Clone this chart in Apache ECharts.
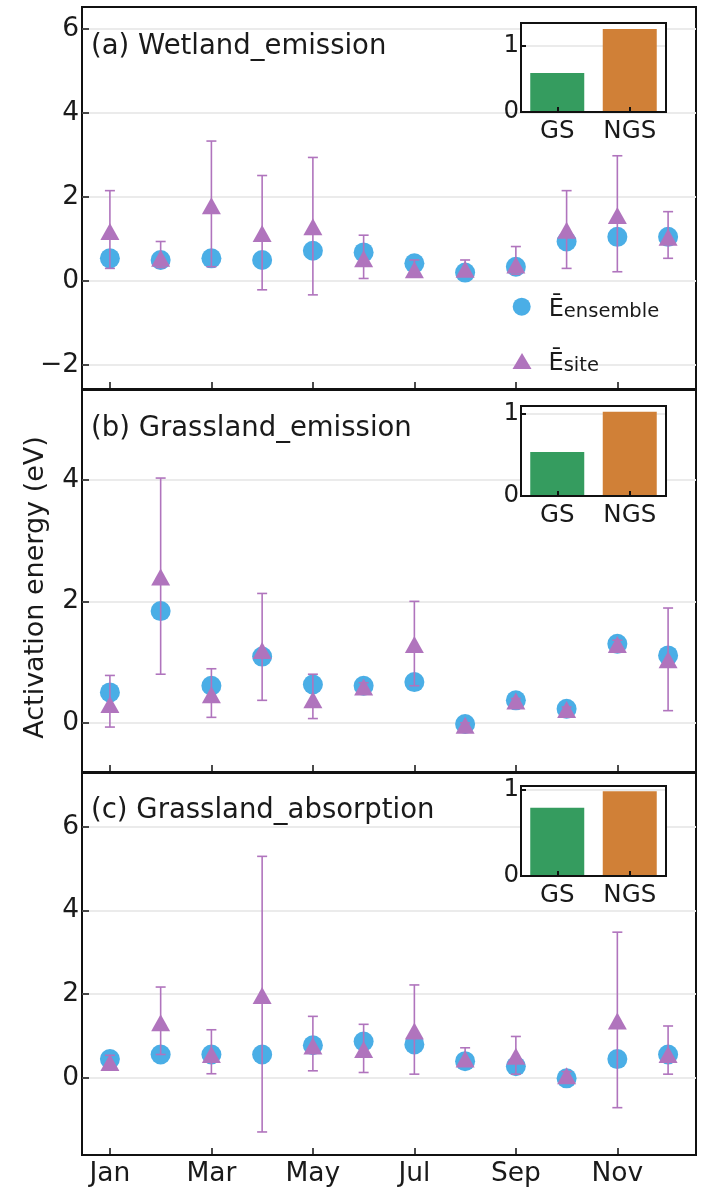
<!DOCTYPE html>
<html>
<head>
<meta charset="utf-8">
<script src="https://cdn.jsdelivr.net/npm/echarts@6/dist/echarts.min.js"></script>
<style>
html,body{margin:0;padding:0;background:#fff;}
#chart{width:704px;height:1190px;}
</style>
</head>
<body>
<div id="chart"></div>
<script>
// ---------- data ----------
const months = ['Jan','Feb','Mar','Apr','May','Jun','Jul','Aug','Sep','Oct','Nov','Dec'];
const monthTicks = [1,3,5,7,9,11];
const panelTitles = ['(a) Wetland_emission','(b) Grassland_emission','(c) Grassland_absorption'];
const insetCats = ['GS','NGS'];

const wetEns   = [0.54,0.50,0.54,0.50,0.72,0.68,0.42,0.20,0.34,0.94,1.05,1.05];
const wetSite  = [1.18,0.54,1.79,1.13,1.29,0.53,0.27,0.28,0.38,1.21,1.56,1.04];
const wetLow   = [0.30,0.32,0.34,-0.21,-0.33,0.06,0.12,0.12,0.16,0.30,0.22,0.54];
const wetHigh  = [2.15,0.94,3.33,2.51,2.94,1.09,0.50,0.50,0.82,2.15,2.98,1.65];

const gemEns   = [0.50,1.84,0.61,1.09,0.63,0.61,0.67,-0.02,0.37,0.23,1.30,1.11];
const gemSite  = [0.30,2.40,0.46,1.19,0.38,0.59,1.29,-0.04,0.36,0.22,1.29,1.04];
const gemLow   = [-0.07,0.80,0.09,0.37,0.07,0.52,0.61,-0.08,0.32,0.18,1.22,0.20];
const gemHigh  = [0.78,4.03,0.89,2.13,0.80,0.66,2.00,0.00,0.40,0.26,1.36,1.89];

const gabEns   = [0.45,0.56,0.56,0.56,0.78,0.87,0.80,0.40,0.28,-0.01,0.45,0.56];
const gabSite  = [0.37,1.32,0.56,1.97,0.76,0.68,1.12,0.45,0.52,0.05,1.36,0.56];
const gabLow   = [0.22,0.56,0.10,-1.29,0.17,0.13,0.09,0.30,0.09,-0.02,-0.71,0.09];
const gabHigh  = [0.54,2.17,1.15,5.29,1.47,1.28,2.22,0.72,0.99,0.15,3.48,1.24];

const insetWet = [0.59,1.26];
const insetGem = [0.534,1.02];
const insetGab = [0.79,0.98];

const yTicksA = [-2,0,2,4,6];
const yTicksB = [0,2,4];
const yTicksC = [0,2,4,6];

// ---------- style ----------
const BLUE = '#4aaee6', PURPLE = '#b074bd', GREEN = '#359c5f', ORANGE = '#d08037';
const GRIDC = '#ebebeb', INK = '#1a1a1a', LINE = '#111111';
const FONT = 'DejaVu Sans';

const mainGrids = [
  {left:82, top:7,   width:614, height:382},
  {left:82, top:390, width:614, height:382},
  {left:82, top:773, width:614, height:382}
];
const insetGrids = [
  {left:521, top:23,  width:145, height:89},
  {left:521, top:406, width:145, height:90},
  {left:521, top:786, width:145, height:90}
];
const yRanges = [[-2.57,6.52],[-0.81,5.48],[-1.84,7.28]];
const yTicks = [yTicksA,yTicksB,yTicksC];
const insetMax = [1.35,1.09,1.04];
const panels = [
  {ens:wetEns, site:wetSite, lo:wetLow, hi:wetHigh, bars:insetWet},
  {ens:gemEns, site:gemSite, lo:gemLow, hi:gemHigh, bars:insetGem},
  {ens:gabEns, site:gabSite, lo:gabLow, hi:gabHigh, bars:insetGab}
];

const fmtNum = v => (v < 0 ? '\u2212' + Math.abs(v) : String(v));

const grid = [], xAxis = [], yAxis = [], series = [], title = [];
const titleCenters = [47, 429, 811];

panels.forEach((p, i) => {
  grid.push(Object.assign({show:true, borderColor:LINE, borderWidth:2, backgroundColor:'transparent', containLabel:false, z:0}, mainGrids[i]));
  xAxis.push({
    type:'value', gridIndex:i, min:0.45, max:12.55, position:'bottom',
    axisLine:{show:false, onZero:false},
    axisTick:{show:true, inside:true, length:7, customValues:monthTicks, lineStyle:{color:LINE, width:1.5}},
    axisLabel:{show:i===2, customValues:monthTicks, formatter:v => months[Math.round(v)-1], fontFamily:FONT, fontSize:26.5, color:INK, margin:6},
    splitLine:{show:false}
  });
  yAxis.push({
    type:'value', gridIndex:i, min:yRanges[i][0], max:yRanges[i][1], position:'left',
    axisLine:{show:false, onZero:false},
    axisTick:{show:true, inside:true, length:7, customValues:yTicks[i], lineStyle:{color:LINE, width:1.5}},
    axisLabel:{customValues:yTicks[i], formatter:fmtNum, fontFamily:FONT, fontSize:26.5, color:INK, margin:3},
    splitLine:{show:true, lineStyle:{color:GRIDC, width:2}},
    name: i===1 ? 'Activation energy (eV)' : '',
    nameLocation:'middle', nameRotate:90, nameGap:33,
    nameTextStyle:{fontFamily:FONT, fontSize:27, color:INK, lineHeight:27, padding:[0,13,0,0]}
  });
  title.push({text:panelTitles[i], left:91, top:titleCenters[i]-14,
    textStyle:{fontFamily:FONT, fontSize:27.5, fontWeight:'normal', color:INK, lineHeight:28}, padding:0});

  const sfx = i===0 ? '' : '_' + i;
  series.push({
    name:'ensemble'+sfx, type:'scatter', xAxisIndex:i, yAxisIndex:i,
    symbol:'circle', symbolSize:20, itemStyle:{color:BLUE, opacity:1}, z:2,
    data: p.ens.map((v,k) => [k+1, v])
  });
  series.push({
    name:'err'+sfx, type:'custom', xAxisIndex:i, yAxisIndex:i, z:3,
    data: p.lo.map((v,k) => [k+1, v, p.hi[k]]),
    encode:{x:0, y:[1,2]},
    renderItem:(params, api) => {
      const x = api.value(0);
      const a = api.coord([x, api.value(1)]);
      const b = api.coord([x, api.value(2)]);
      const w = 5;
      const st = {stroke:PURPLE, lineWidth:1.6};
      return {type:'group', children:[
        {type:'line', shape:{x1:a[0], y1:a[1], x2:b[0], y2:b[1]}, style:st},
        {type:'line', shape:{x1:a[0]-w, y1:a[1], x2:a[0]+w, y2:a[1]}, style:st},
        {type:'line', shape:{x1:b[0]-w, y1:b[1], x2:b[0]+w, y2:b[1]}, style:st}
      ]};
    }
  });
  series.push({
    name:'site'+sfx, type:'scatter', xAxisIndex:i, yAxisIndex:i,
    symbol:'triangle', symbolSize:[19,17], itemStyle:{color:PURPLE, opacity:1}, z:4,
    data: p.site.map((v,k) => [k+1, v])
  });
});

const frameLine = {show:true, onZero:false, lineStyle:{color:LINE, width:2}};
panels.forEach((p, i) => {
  const gi = 3 + i;
  grid.push(Object.assign({show:true, borderColor:LINE, borderWidth:2, backgroundColor:'#ffffff', z:5}, insetGrids[i]));
  // bottom category axis (index 3+2i) — drawn above bars so its ticks show
  xAxis.push({
    type:'category', gridIndex:gi, data:insetCats, position:'bottom', z:8,
    axisLine:frameLine,
    axisTick:{show:true, inside:true, alignWithLabel:true, length:5, lineStyle:{color:LINE, width:2}},
    axisLabel:{fontFamily:FONT, fontSize:24.5, color:INK, margin:7}
  });
  // top frame (index 4+2i)
  xAxis.push({
    type:'category', gridIndex:gi, data:insetCats, position:'top', z:8,
    axisLine:frameLine, axisTick:{show:false}, axisLabel:{show:false}, splitLine:{show:false}
  });
  // left value axis — below bars so its grid line stays behind them
  yAxis.push({
    type:'value', gridIndex:gi, min:0, max:insetMax[i], interval:1, position:'left', z:6,
    axisLine:frameLine,
    axisTick:{show:true, inside:true, length:5, lineStyle:{color:LINE, width:2}},
    axisLabel:{fontFamily:FONT, fontSize:24.5, color:INK, margin:2},
    splitLine:{show:true, lineStyle:{color:GRIDC, width:2}}
  });
  // right frame
  yAxis.push({
    type:'value', gridIndex:gi, min:0, max:insetMax[i], position:'right', z:8,
    axisLine:frameLine, axisTick:{show:false}, axisLabel:{show:false}, splitLine:{show:false}
  });
  series.push({
    name:'bars'+i, type:'bar', xAxisIndex:3+2*i, yAxisIndex:3+2*i, z:7, barWidth:54,
    data: p.bars.map((v,k) => ({value:v, itemStyle:{color: k===0 ? GREEN : ORANGE}}))
  });
});

const legendRich = {
  E:{fontFamily:FONT, fontSize:24, lineHeight:30, color:INK, verticalAlign:'bottom', padding:[0,0,0,12]},
  s:{fontFamily:FONT, fontSize:19.5, lineHeight:18, color:INK, verticalAlign:'bottom'}
};
const legend = [
  {data:[{name:'ensemble', icon:'circle'}], left:512.7, top:297.7, orient:'vertical', itemWidth:20, itemHeight:18, padding:0,
   formatter:() => '{E|\u0112}{s|ensemble}', textStyle:{rich:legendRich}, selectedMode:false},
  {data:[{name:'site', icon:'triangle'}], left:512.5, top:352, orient:'vertical', itemWidth:19, itemHeight:16, padding:0,
   formatter:() => '{E|\u0112}{s|site}', textStyle:{rich:legendRich}, selectedMode:false}
];

const chart = echarts.init(document.getElementById('chart'), null, {renderer:'canvas'});
chart.setOption({
  backgroundColor:'#ffffff',
  animation:false,
  title, grid, xAxis, yAxis, series, legend
});
</script>
</body>
</html>
